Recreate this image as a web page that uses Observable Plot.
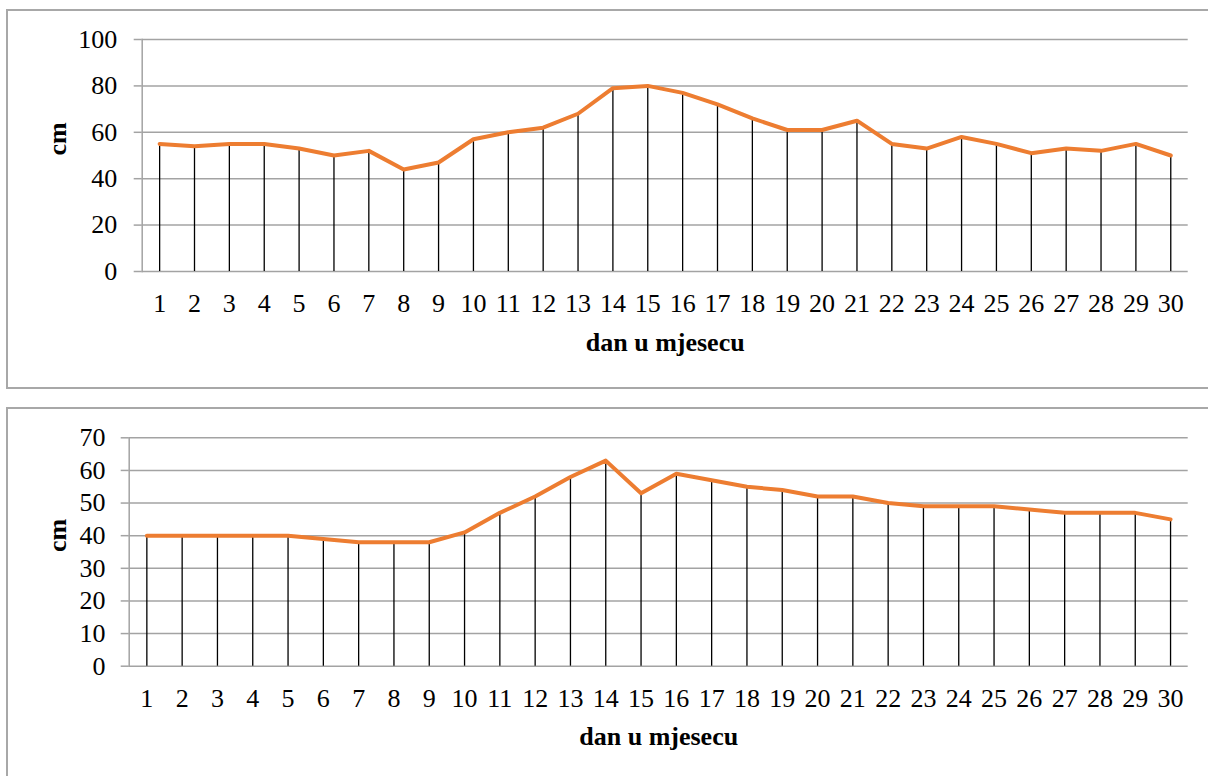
<!DOCTYPE html>
<html>
<head>
<meta charset="utf-8">
<script src="https://cdn.jsdelivr.net/npm/d3@7"></script>
<script src="https://cdn.jsdelivr.net/npm/@observablehq/plot@0.6"></script>
<style>
  html, body { margin: 0; padding: 0; background: #fff; width: 1208px; height: 776px; overflow: hidden; }
  .box { position: absolute; border: 2px solid #a8a8a8; box-sizing: border-box; }
  .chart { position: absolute; left: 0; }
</style>
</head>
<body>
<div class="box" style="left:6px;top:9px;width:1212px;height:380px;"></div>
<div class="box" style="left:6px;top:407px;width:1212px;height:400px;"></div>
<div id="c1" class="chart" style="top:0px;"></div>
<div id="c2" class="chart" style="top:400px;"></div>
<script>
const days = d3.range(1, 31);
const depthTop = [55,54,55,55,53,50,52,44,47,57,60,62,68,79,80,77,72,66,61,61,65,55,53,58,55,51,53,52,55,50];
const depthBottom = [40,40,40,40,40,39,38,38,38,41,47,52,58,63,53,59,57,55,54,52,52,50,49,49,49,48,47,47,47,45];
const yTicksTop = [0,20,40,60,80,100];
const yTicksBottom = [0,10,20,30,40,50,60,70];
const xTitle = "dan u mjesecu";
const yTitle = "cm";

const gridColor = "#a3a3a3";
const lineColor = "#ED7D31";

function makeChart(values, yTicks, opts) {
  const data = days.map((d, i) => ({day: d, v: values[i]}));
  return Plot.plot({
    width: 1208,
    height: opts.height,
    marginLeft: opts.marginLeft,
    marginRight: 20.3,
    marginTop: opts.marginTop,
    marginBottom: opts.marginBottom,
    style: {fontFamily: "'Liberation Serif', 'Times New Roman', serif", fontSize: "26px", color: "black", background: "transparent", overflow: "visible"},
    x: {type: "point", domain: days, padding: 0.5, round: false},
    y: {domain: [yTicks[0], yTicks[yTicks.length - 1]], ticks: yTicks},
    marks: [
      Plot.gridY(yTicks, {stroke: gridColor, strokeOpacity: 1, strokeWidth: 1.5}),
      Plot.frame({anchor: "left", stroke: gridColor, strokeWidth: 1.5, strokeOpacity: 1}),
      Plot.axisY(yTicks, {tickSize: 8, tickPadding: opts.tickPadY, stroke: gridColor, strokeWidth: 1.5, fill: "black", label: null, tickFormat: d => String(d)}),
      Plot.axisX(days, {tickSize: 0, tickPadding: 22, fill: "black", label: null, tickFormat: d => String(d)}),
      Plot.ruleX(data, {x: "day", y1: 0, y2: "v", stroke: "black", strokeWidth: 1.3}),
      Plot.lineY(data, {x: "day", y: "v", stroke: lineColor, strokeWidth: 4}),
      Plot.text([xTitle], {frameAnchor: "bottom", dy: 79, lineAnchor: "bottom", text: d => d, fontWeight: "bold", fontSize: 26}),
      Plot.text([yTitle], {frameAnchor: "left", dx: opts.yTitleDx, rotate: -90, lineAnchor: "middle", text: d => d, fontWeight: "bold", fontSize: 26})
    ]
  });
}

document.getElementById("c1").appendChild(makeChart(depthTop, yTicksTop, {
  height: 390, marginLeft: 141.7, marginTop: 39, marginBottom: 119, tickPadY: 17, yTitleDx: -85
}));
document.getElementById("c2").appendChild(makeChart(depthBottom, yTicksBottom, {
  height: 376, marginLeft: 128.7, marginTop: 37.3, marginBottom: 110.3, tickPadY: 15.7, yTitleDx: -72
}));
</script>
</body>
</html>
